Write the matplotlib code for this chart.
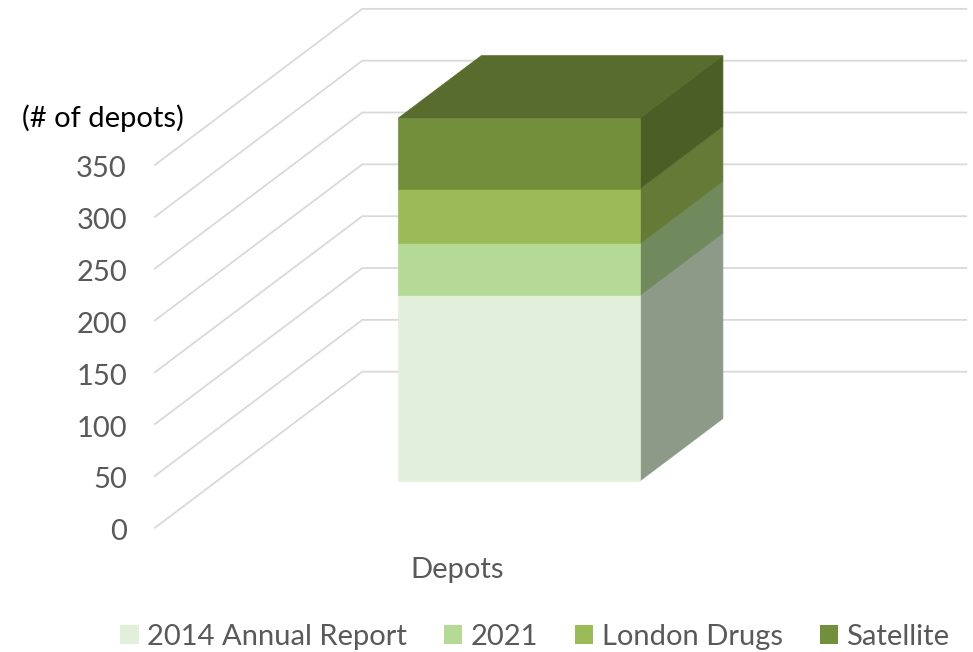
import matplotlib
matplotlib.use("Agg")
import matplotlib.pyplot as plt
from matplotlib.patches import Polygon, Patch

plt.rcParams["font.family"] = ["Lato", "DejaVu Sans"]

# data
category = "Depots"
series = ["2014 Annual Report", "2021", "London Drugs", "Satellite"]
values = [179, 50, 53, 68]
front_colors = ["#E2EFDA", "#B4DA95", "#9BBB59", "#728F3B"]
side_colors = ["#8E9A88", "#708A5E", "#657A36", "#4B5E26"]
top_color = "#586C2E"
yticks = [0, 50, 100, 150, 200, 250, 300, 350]

W, H = 973, 652
fig = plt.figure(figsize=(W / 100, H / 100), dpi=100)
ax = fig.add_axes([0, 0, 1, 1])
ax.axis("off")

# layout of the oblique "3d" frame (pixels)
px_left = 155          # front-left corner of the floor
px_zero = 527.7        # y of value 0 on the front plane
cat_w = 604            # pixel width of one category
px_per_val = 1.0367
depth_px = (207.3, 156.0)

ax.set_xlim(-px_left / cat_w, (W - px_left) / cat_w)
ax.set_ylim(-(H - px_zero) / px_per_val, px_zero / px_per_val)

Dx = depth_px[0] / cat_w
Dy = depth_px[1] / px_per_val


def proj(x, v, d):
    return (x + d * Dx, v + d * Dy)


# gridlines: side wall + back wall
grid_c = "#D9D9D9"
lab_drop = 12.5 / px_per_val   # baseline of tick labels sits a bit below the line
for v in yticks:
    p0 = proj(0, v, 0)
    p1 = proj(0, v, 1)
    p2 = proj(1, v, 1)
    ax.plot([p0[0], p1[0], p2[0]], [p0[1], p1[1], p2[1]], color=grid_c, lw=1.3,
            solid_joinstyle="miter", zorder=1)
    ax.text(-28 / cat_w, v - lab_drop, str(v), ha="right", va="baseline", fontsize=21,
            color="#595959")

# stacked bar
gap = 1.5
bw = 1 / (1 + gap)
x0, x1 = 0.5 - bw / 2, 0.5 + bw / 2
d0, d1 = 0.5 - bw / 2, 0.5 + bw / 2
bottom = 0
for i, val in enumerate(values):
    top = bottom + val
    front = [proj(x0, bottom, d0), proj(x1, bottom, d0), proj(x1, top, d0), proj(x0, top, d0)]
    side = [proj(x1, bottom, d0), proj(x1, bottom, d1), proj(x1, top, d1), proj(x1, top, d0)]
    ax.add_patch(Polygon(side, closed=True, facecolor=side_colors[i], edgecolor=side_colors[i],
                         lw=0.5, zorder=3))
    ax.add_patch(Polygon(front, closed=True, facecolor=front_colors[i], edgecolor=front_colors[i],
                         lw=0.5, zorder=4))
    bottom = top

lid = [proj(x0, bottom, d0), proj(x1, bottom, d0), proj(x1, bottom, d1), proj(x0, bottom, d1)]
ax.add_patch(Polygon(lid, closed=True, facecolor=top_color, edgecolor=top_color, lw=0.5, zorder=4))

# texts
fig.text(22 / W, 1 - 118 / H, "(# of depots)", ha="left", va="center", fontsize=21,
         color="#000000")
ax.text(0.5, -(570 - px_zero) / px_per_val, category, ha="center", va="center",
        fontsize=21, color="#595959")

handles = [Patch(facecolor=c, edgecolor="none") for c in front_colors]
leg = fig.legend(handles, series, loc="center", bbox_to_anchor=(535 / W, 1 - 637 / H),
                 ncol=4, frameon=False, fontsize=21, handlelength=0.62, handleheight=0.62,
                 handletextpad=0.3, columnspacing=1.26, borderpad=0, borderaxespad=0)
for t in leg.get_texts():
    t.set_color("#595959")

fig.savefig("out.png", dpi=100)
